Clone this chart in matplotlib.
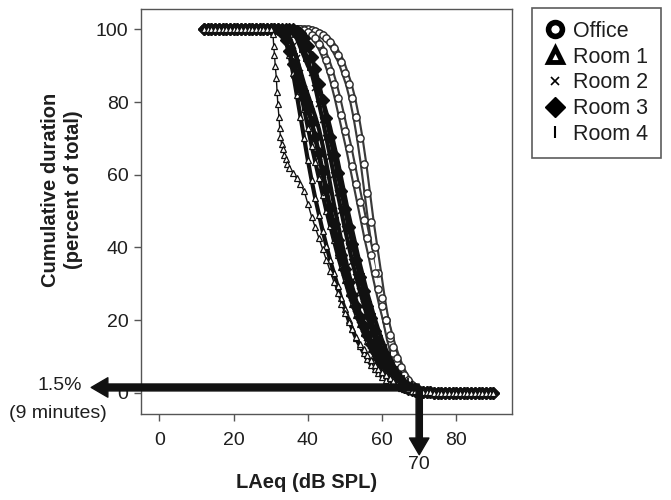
import matplotlib
matplotlib.use("Agg")
import matplotlib.pyplot as plt
from matplotlib.lines import Line2D

plt.rcParams['font.family'] = ['Liberation Sans', 'DejaVu Sans']

# ---------------- data ----------------
PLATEAU_X = [12, 13, 14, 15, 16, 17, 18, 19, 20, 21, 22, 23, 24, 25, 26, 27, 28, 29]
PLATEAU_Y = [100, 100, 100, 100, 100, 100, 100, 100, 100, 100, 100, 100, 100, 100, 100, 100,
             100, 100]
TAIL_X = [71, 72, 73, 74, 75, 76, 77, 78, 79, 80, 81, 82, 83, 84, 85, 86, 87, 88, 89, 90]
TAIL_Y = [0.2, 0.15, 0.12, 0.1, 0.08, 0.06, 0.05, 0.04, 0.03, 0.02, 0.02, 0.01, 0.01, 0, 0, 0,
          0, 0, 0, 0]

GRID_X = [30, 31, 32, 33, 34, 35, 36, 37, 38, 39, 40, 41, 42, 43, 44, 45, 46, 47, 48, 49,
          50, 51, 52, 53, 54, 55, 56, 57, 58, 59, 60, 61, 62, 63, 64, 65, 66, 67, 68, 69, 70]

office_a = [100, 100, 100, 100, 100, 100, 100, 100, 100, 100, 100, 99.8, 99.5, 99, 98.5, 97.5,
            96.5, 95, 93, 91, 88, 85, 81, 76, 70, 63, 55, 47, 40, 33, 26, 20, 15, 11, 8, 5.5,
            3.8, 2.6, 1.7, 1.0, 0.6]
office_b = [100, 100, 100, 100, 100, 100, 100, 100, 100, 99.7, 99.3, 98.5, 97.5, 96, 94, 91.5,
            88.5, 85, 81, 76.5, 72, 67.5, 62.5, 57.5, 52.5, 47.5, 42.5, 38, 33, 28.5, 24, 20,
            16, 12.5, 9.5, 7, 5, 3.5, 2.3, 1.5, 0.9]

room1_b = [100, 100, 100, 99, 97, 93, 88, 82, 76, 70, 64, 58.5, 53.5, 49, 44.5, 40.5, 36.5, 33,
           29.5, 26, 23, 20, 17.5, 15, 13, 11, 9.3, 7.8, 6.5, 5.4, 4.4, 3.6, 2.9, 2.3, 1.8,
           1.3, 1.0, 0.7, 0.5, 0.3, 0.2]
room1_c = [100, 100, 100, 100, 98.5, 96, 92.5, 88, 83, 78, 73, 68, 63.5, 59, 54.5, 50, 46, 42,
           38, 34.5, 31, 27.5, 24.5, 21.5, 19, 16.5, 14.2, 12, 10, 8.3, 6.8, 5.5, 4.4, 3.4,
           2.6, 1.9, 1.4, 1.0, 0.6, 0.4, 0.2]
room1_a_x = [30, 30.6, 30.8, 31.0, 31.2, 31.5, 31.7, 31.9, 32.2, 32.4, 32.6, 32.9, 33.2, 33.6,
             34.0, 34.5, 35, 36, 37, 38, 39, 40, 41, 42, 43, 44, 45, 46, 47, 48, 49, 50, 51,
             52, 53, 54, 55, 56, 57, 58, 59, 60, 61, 62, 63, 64, 65, 66, 67, 68, 69, 70]
room1_a_y = [100, 98.6, 95.3, 93, 90, 86.6, 82.7, 79.5, 76, 73, 70.4, 68.5, 67, 65.5, 64.3, 63,
             62, 60.5, 59, 57.5, 55.5, 52, 48.5, 45.5, 42.5, 39.5, 36.5, 33.5, 30.5, 27.5, 24.5,
             22, 19.5, 17.5, 15.5, 13.5, 12, 10.5, 9, 7.8, 6.7, 5.7, 4.8, 4, 3.2, 2.5, 1.9,
             1.4, 1.0, 0.6, 0.4, 0.2]

room2_a = [100, 100, 100, 100, 99.5, 98, 95.5, 92, 88, 83.5, 79, 74.5, 70, 65, 60, 55, 50, 45.5,
           41, 37, 33, 29.5, 26, 23, 20, 17.5, 15, 12.8, 10.8, 9, 7.5, 6.2, 5, 4, 3.1, 2.4,
           1.8, 1.3, 0.9, 0.6, 0.4]
room2_b = [100, 100, 100, 100, 100, 100, 99.5, 98.5, 97, 94.5, 91.5, 88, 84, 79.5, 75, 70, 65,
           60, 55, 50, 45, 40.5, 36, 32, 28, 24.5, 21, 18, 15, 12.5, 10.3, 8.4, 6.8, 5.4, 4.2,
           3.2, 2.4, 1.7, 1.2, 0.8, 0.5]

room3_a = [100, 100, 100, 99, 97, 94, 90.5, 87, 84, 81, 78, 74.5, 70.5, 66, 61, 56, 51, 46.5,
           42, 38, 34, 30.5, 27, 24, 21, 18.3, 15.8, 13.5, 11.4, 9.5, 7.8, 6.3, 5, 3.9, 3,
           2.3, 1.7, 1.2, 0.8, 0.5, 0.3]
room3_b = [100, 100, 100, 100, 100, 100, 100, 99.5, 99, 97.5, 95.5, 92.5, 89, 85, 80.5, 75.5,
           70.5, 65.5, 60.5, 55.5, 50.5, 45.5, 41, 36.5, 32, 28, 24, 20.5, 17, 14, 11.3, 9, 7,
           5.4, 4, 3, 2.2, 1.6, 1.1, 0.7, 0.4]

room4_a = [100, 100, 100, 100, 99, 97.5, 95, 92, 88.5, 85, 82, 79, 76, 72.5, 68, 63, 57.5, 52,
           47, 42, 37.5, 33, 29, 25.5, 22, 19, 16.3, 13.8, 11.6, 9.6, 7.9, 6.4, 5.1, 4, 3.1,
           2.3, 1.7, 1.2, 0.8, 0.5, 0.3]
room4_b = [100, 100, 100, 100, 100, 100, 99, 97.5, 95, 92.5, 90, 88, 86, 83.5, 80.5, 77, 73,
           68.5, 64, 59, 54, 49, 44.5, 40, 35.5, 31.5, 27.5, 24, 20.5, 17.3, 14.5, 12, 9.8,
           7.8, 6.1, 4.7, 3.5, 2.6, 1.9, 1.3, 0.8]

LEGEND_LABELS = ["Office", "Room 1", "Room 2", "Room 3", "Room 4"]
X_TICKS = [0, 20, 40, 60, 80]
Y_TICKS = [0, 20, 40, 60, 80, 100]

# ---------------- figure ----------------
fig = plt.figure(figsize=(6.71, 5.0), dpi=100)
ax = fig.add_axes([0.210, 0.172, 0.553, 0.810])
ax.set_xlim(-5, 95)
ax.set_ylim(-5.8, 105.6)

INK = '#111111'
TXT = '#1e1e1e'


def full(xs, ys):
    return PLATEAU_X + xs + TAIL_X, PLATEAU_Y + ys + TAIL_Y


# office curves (hollow circles, drawn beneath the dark band)
for vals in (office_a, office_b):
    xs, ys = full(GRID_X, vals)
    ax.plot(xs, ys, color='#3a3a3a', lw=5.5, solid_capstyle='round', zorder=2)
    ax.plot(xs, ys, color='white', lw=2.4, zorder=2.1)
    ax.plot(xs, ys, ls='none', marker='o', ms=5.2, mfc='white', mec='#2a2a2a', mew=1.0,
            zorder=2.2)

# room curves (dark band)
room_styles = [
    (room1_b, dict(marker='^', ms=4.5, mfc='white', mec=INK, mew=0.9)),
    (room1_c, dict(marker='^', ms=4.5, mfc='white', mec=INK, mew=0.9)),
    (room2_a, dict(marker='x', ms=4.5, mec=INK, mew=1.1)),
    (room2_b, dict(marker='x', ms=4.5, mec=INK, mew=1.1)),
    (room3_a, dict(marker='D', ms=6, mfc=INK, mec=INK)),
    (room3_b, dict(marker='D', ms=6, mfc=INK, mec=INK)),
    (room4_a, dict(marker='|', ms=7, mec=INK, mew=1.3)),
    (room4_b, dict(marker='|', ms=7, mec=INK, mew=1.3)),
]
for vals, st in room_styles:
    xs, ys = full(GRID_X, vals)
    ax.plot(xs, ys, color=INK, lw=3.0, zorder=3, solid_capstyle='round', **st)

xs, ys = full(room1_a_x, room1_a_y)
ax.plot(xs, ys, color=INK, lw=1.0, marker='^', ms=4.5, mfc='white', mec=INK, mew=0.9,
        zorder=3)

# axes styling
for sp in ax.spines.values():
    sp.set_color('#555555')
    sp.set_linewidth(1.0)
ax.set_xticks(X_TICKS)
ax.set_yticks(Y_TICKS)
ax.tick_params(axis='both', direction='out', length=5, width=1, color='#555555',
               labelsize=14, labelcolor=TXT)
ax.tick_params(axis='x', pad=8)
ax.tick_params(axis='y', pad=4)

ax.set_xlabel("LAeq (dB SPL)", fontsize=14.5, fontweight='bold', color=TXT)
ax.xaxis.set_label_coords(0.447, -0.146)
ax.set_ylabel("Cumulative duration\n(percent of total)", fontsize=14.5, fontweight='bold',
              color=TXT, linespacing=1.25)
ax.yaxis.set_label_coords(-0.156, 0.553)

# annotation arrows
ax.annotate('', xy=(-18.4, 1.5), xytext=(70, 1.5), xycoords='data', annotation_clip=False,
            arrowprops=dict(width=5.0, headwidth=14, headlength=12, shrink=0,
                            facecolor=INK, edgecolor=INK), zorder=6)
ax.annotate('', xy=(70, -17.0), xytext=(70, 1.5), xycoords='data', annotation_clip=False,
            arrowprops=dict(width=4.5, headwidth=14, headlength=12, shrink=0,
                            facecolor=INK, edgecolor=INK), zorder=6)
ax.text(-27.0, 2.0, "1.5%", ha='center', va='center', fontsize=14, color=TXT, clip_on=False)
ax.text(-27.3, -5.8, "(9 minutes)", ha='center', va='center', fontsize=14, color=TXT,
        clip_on=False)
ax.text(70, -17.3, "70", ha='center', va='top', fontsize=14, color=TXT, clip_on=False)

# legend
handles = [
    Line2D([], [], ls='none', marker='o', ms=10, mfc='white', mec='black', mew=4),
    Line2D([], [], ls='none', marker='^', ms=10, mfc='white', mec='black', mew=3.5),
    Line2D([], [], ls='none', marker='x', ms=6, mec='black', mew=1.2),
    Line2D([], [], ls='none', marker='D', ms=10, mfc='black', mec='black'),
    Line2D([], [], ls='none', marker='|', ms=9, mec='black', mew=1.5),
]
leg = fig.legend(handles, LEGEND_LABELS, loc='upper left', bbox_to_anchor=(0.793, 0.984),
                 bbox_transform=fig.transFigure, borderaxespad=0, fontsize=15.5,
                 frameon=True, fancybox=False, edgecolor='#333333', borderpad=0.6,
                 labelspacing=0.22, handlelength=0.9, handletextpad=0.4)
leg.get_frame().set_linewidth(1.2)
for t in leg.get_texts():
    t.set_color(TXT)

fig.savefig("out.png", dpi=100)
